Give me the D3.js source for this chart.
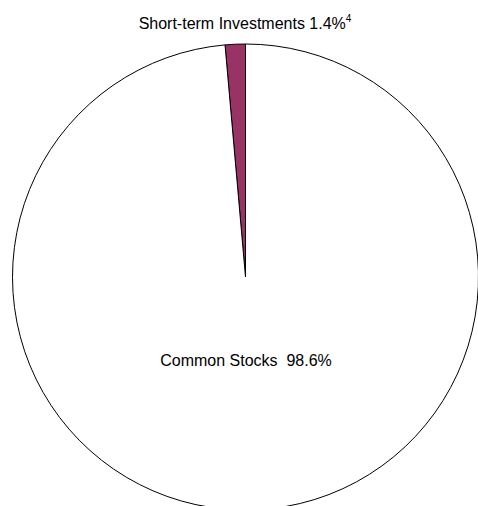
<!DOCTYPE html>
<html>
<head>
<meta charset="utf-8">
<script src="https://cdn.jsdelivr.net/npm/d3@7"></script>
<style>
  html, body { margin: 0; padding: 0; background: #fff; }
  svg { display: block; }
  text { font-family: "Liberation Sans", Arial, sans-serif; fill: #000; }
</style>
</head>
<body>
<script>
// Portfolio holdings
const categories = ["Short-term Investments", "Common Stocks"];
const values = [1.4, 98.6];
const colors = ["#993366", "#ffffff"];

const width = 478, height = 506;
const cx = 245.5, cy = 277, radius = 233;

const svg = d3.select("body").append("svg")
  .attr("width", width)
  .attr("height", height);

// Start the small slice at 12 o'clock and sweep it counter-clockwise
const pie = d3.pie()
  .sort(null)
  .value(d => d.value)
  .startAngle(0)
  .endAngle(-2 * Math.PI);

const data = categories.map((c, i) => ({ name: c, value: values[i], color: colors[i] }));
const arcs = pie(data);

const arc = d3.arc().innerRadius(0).outerRadius(radius);

const g = svg.append("g").attr("transform", `translate(${cx},${cy})`);

g.selectAll("path")
  .data(arcs)
  .join("path")
  .attr("d", arc)
  .attr("fill", d => d.data.color)
  .attr("stroke", "#000")
  .attr("stroke-width", 1);

// Labels
const topLabel = svg.append("text")
  .attr("x", 245)
  .attr("y", 29)
  .attr("text-anchor", "middle")
  .attr("font-size", 16);
topLabel.append("tspan").text(`${categories[0]} ${values[0]}%`);
topLabel.append("tspan").attr("font-size", 10).attr("dy", -7).text("4");

svg.append("text")
  .attr("x", 246)
  .attr("y", 366)
  .attr("text-anchor", "middle")
  .attr("font-size", 16)
  .attr("xml:space", "preserve")
  .style("white-space", "pre")
  .text(`${categories[1]}  ${values[1]}%`);
</script>
</body>
</html>
